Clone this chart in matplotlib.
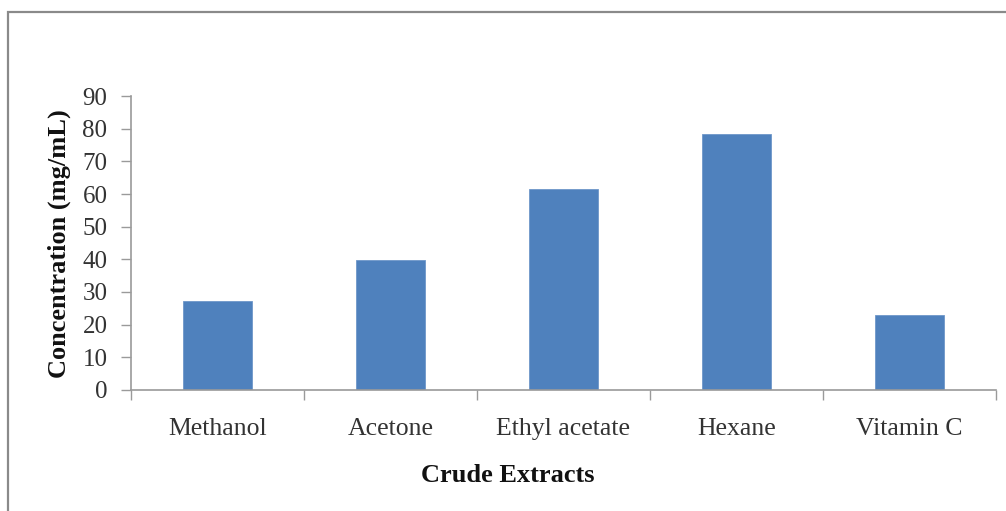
import matplotlib
matplotlib.use("Agg")
import matplotlib.pyplot as plt
from matplotlib.patches import Rectangle
import numpy as np

categories = ["Methanol", "Acetone", "Ethyl acetate", "Hexane", "Vitamin C"]
values = [27.2, 39.8, 61.4, 78.3, 22.9]
yticks = [0, 10, 20, 30, 40, 50, 60, 70, 80, 90]

plt.rcParams['font.family'] = ['Liberation Serif', 'DejaVu Serif']

W, H = 1006, 511
fig = plt.figure(figsize=(W / 100, H / 100), dpi=100)
ax = fig.add_axes([131 / W, 1 - 390 / H, (996 - 131) / W, (390 - 96) / H])

x = np.arange(len(categories))
ax.bar(x, values, width=0.4, color="#4F81BD", edgecolor="#6F97C9", linewidth=0.6, zorder=2)

ax.set_xlim(-0.5, len(categories) - 0.5)
ax.set_ylim(0, 90)
ax.set_yticks(yticks)
ax.set_yticklabels([str(v) for v in yticks], fontsize=18, color="#333333")
ax.tick_params(axis="y", direction="out", length=7, width=1, color="#9a9a9a", pad=10)

ax.set_xticks(np.arange(-0.5, len(categories), 1.0))
ax.set_xticklabels([])
ax.set_xticks(x, minor=True)
ax.set_xticklabels(categories, minor=True, fontsize=18.5, color="#333333")
ax.tick_params(axis="x", which="major", direction="out", length=7, width=1, color="#9a9a9a")
ax.tick_params(axis="x", which="minor", length=0, pad=20)

for s in ["top", "right"]:
    ax.spines[s].set_visible(False)
for s in ["left", "bottom"]:
    ax.spines[s].set_color("#9a9a9a")
    ax.spines[s].set_linewidth(1.2)

fig.text(59 / W, 1 - 244 / H, "Concentration (mg/mL)", rotation=90, ha="center", va="center",
         fontsize=19, fontweight="bold", color="#111111")
fig.text(508 / W, 1 - 475 / H, "Crude Extracts", ha="center", va="center",
         fontsize=19, fontweight="bold", color="#111111")

border = Rectangle((8 / W, -0.05), 1.2, (1 - 12 / H) + 0.05, transform=fig.transFigure,
                   fill=False, edgecolor="#8a8a8a", linewidth=1.6)
fig.add_artist(border)

fig.savefig("out.png", dpi=100)
